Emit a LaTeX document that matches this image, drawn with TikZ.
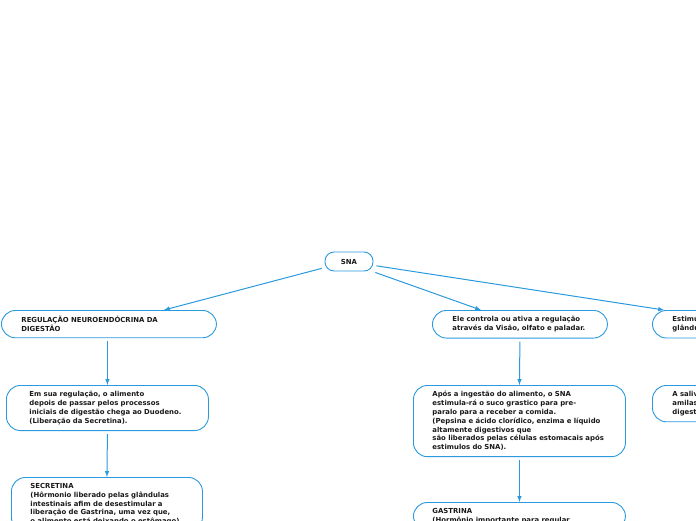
\documentclass[tikz,border=0pt]{standalone}
\usepackage{fontspec}
\setmainfont{DejaVu Sans}
\usetikzlibrary{arrows,shapes}
\definecolor{mmblue}{RGB}{42,153,222}

\begin{document}
\begin{tikzpicture}[x=1pt,y=-1pt,every text node part/.style={align=left},
		topic/.style={draw=mmblue,line width=0.9pt,rounded corners=14pt,inner xsep=20pt,inner ysep=6pt,anchor=north west,font=\fontsize{6.9}{8.8}\selectfont\bfseries,text=black!90},
		link/.style={draw=mmblue,line width=1pt,-latex,shorten <=3pt}]
			\clip (0,0) rectangle (696,520);
			\node[topic,anchor=center,align=center,minimum width=48pt,minimum height=19pt,inner xsep=4pt,rounded corners=9pt] (sna) at (349,261.5) {SNA};
			\node[topic,text width=175pt] (neuro) at (1,310) {REGULAÇÃO NEUROENDÓCRINA DA\\DIGESTÃO};
			\node[topic,text width=135pt] (controle) at (432,310) {Ele controla ou ativa a regulação\\através da Visão, olfato e paladar.};
			\node[topic,text width=150pt] (estimulo) at (652,310) {Estimula\\glândulas};
			\node[topic,text width=156pt,inner xsep=23pt] (regulacao) at (6,385) {Em sua regulação, o alimento\\depois de passar pelos processos\\iniciais de digestão chega ao Duodeno.\\(Liberação da Secretina).};
			\node[topic,text width=153pt,inner xsep=19pt] (secretina) at (11,477) {SECRETINA\\(Hôrmonio liberado pelas glândulas\\intestinais afim de desestimular a\\liberação de Gastrina, uma vez que,\\o alimento está deixando o estômago)};
			\node[topic,text width=174pt,inner xsep=19pt] (apos) at (413,385) {Após a ingestão do alimento, o SNA\\estimula-rá o suco grastico para pre-\\paralo para a receber a comida.\\(Pepsina e ácido clorídico, enzima e líquido\\ altamente digestivos que\\são liberados pelas células estomacais após\\estimulos do SNA).};
			\node[topic,text width=174pt,inner xsep=19pt] (gastrina) at (413,502) {GASTRINA\\(Hormônio importante para regular};
			\node[topic,text width=150pt] (saliva) at (652,385) {A saliva\\amilase\\digestão};
			\draw[link] (sna.194) -- ([xshift=55pt]neuro.north);
			\draw[link] (sna.337) -- ([xshift=-39pt]controle.north);
			\draw[link] (sna.351) -- ([xshift=12pt]estimulo.north west);
			\draw[link] (regulacao.north |- neuro.south) -- (regulacao.north);
			\draw[link] (regulacao.south) -- (secretina.north);
			\draw[link] (controle.south) -- (apos.north);
			\draw[link] (apos.south) -- (gastrina.north);
		\end{tikzpicture}
\end{document}
